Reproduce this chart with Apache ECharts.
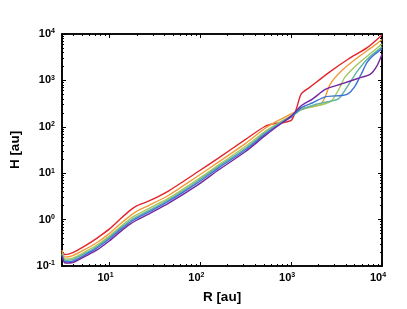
<!DOCTYPE html>
<html>
<head>
<meta charset="utf-8">
<script src="https://cdn.jsdelivr.net/npm/echarts@6/dist/echarts.min.js"></script>
<style>html,body{margin:0;padding:0;background:#fff;}#c{width:407px;height:309px;}</style>
</head>
<body>
<div id="c"></div>
<script>
// Shared radii for the inner part of the profiles (au)
const R_LOW = [3, 3.24, 3.94, 5.44, 7.23, 10, 13.3, 17, 20.1, 27.6, 44.9, 93, 158, 315, 512, 653, 833];

const H_LOW_RED    = [0.204, 0.176, 0.194, 0.276, 0.395, 0.630, 1.055, 1.60, 2.0, 2.55, 4.17, 10.6, 21.1, 53.6, 101.5, 117.6, 123.5];
const H_LOW_ORANGE = [0.219, 0.1555, 0.1675, 0.230, 0.317, 0.505, 0.826, 1.22, 1.53, 2.05, 3.35, 8.59, 17.3, 44.0, 92.0, 123.5, 158];
const H_LOW_YELLOW = [0.189, 0.141, 0.148, 0.204, 0.280, 0.447, 0.713, 1.055, 1.28, 1.77, 2.89, 7.27, 14.96, 38.0, 79.4, 106.6, 143];
const H_LOW_TEAL   = [0.180, 0.1323, 0.1376, 0.189, 0.260, 0.415, 0.662, 0.957, 1.16, 1.60, 2.68, 6.72, 13.9, 34.5, 73.8, 101.5, 136];
const H_LOW_BLUE   = [0.1716, 0.1235, 0.1278, 0.176, 0.242, 0.386, 0.615, 0.889, 1.08, 1.49, 2.49, 6.18, 12.9, 32.0, 68.5, 96.6, 130];
const H_LOW_PURPLE = [0.1634, 0.1159, 0.1187, 0.1634, 0.219, 0.350, 0.558, 0.806, 0.98, 1.35, 2.26, 5.52, 11.7, 29.3, 63.6, 92.0, 130];

// Outer part, per profile
const R_HI_RED    = [1012, 1143, 1291, 1596, 2597, 4225, 6875, 10000];
const H_HI_RED    = [140, 245.6, 513, 706, 1474, 2860, 5080, 9520];
const R_HI_ORANGE = [1012, 1200, 1389, 1816, 2101, 2373, 2700, 3589, 5390, 8072, 10000];
const H_HI_ORANGE = [192, 223, 254, 278, 299, 443, 838, 1610, 3108, 5495, 7630];
const R_HI_YELLOW = [1012, 1291, 1816, 2373, 2813, 3443, 3890, 5390, 8072, 10000];
const H_HI_YELLOW = [174, 234, 278, 314, 369, 713, 1164, 2237, 4300, 6120];
const R_HI_TEAL   = [1012, 1291, 1816, 2491, 3313, 3890, 4579, 5390, 6875, 10000];
const H_HI_TEAL   = [166, 234, 299, 346, 401, 603, 985, 1610, 2860, 5280];
const R_HI_BLUE   = [1012, 1291, 1729, 2373, 3589, 4225, 4962, 5840, 6875, 8072, 10000];
const H_HI_BLUE   = [166, 258, 330, 443, 472, 513, 713, 1304, 2468, 3480, 4790];
const R_HI_PURPLE = [1012, 1291, 1729, 2373, 3589, 5390, 7450, 8768, 10000];
const H_HI_PURPLE = [174, 285, 401, 640, 838, 1098, 1369, 2028, 3655];

const X_MAJOR = [10, 100, 1000, 10000];
const X_MINOR = [3,4,5,6,7,8,9,20,30,40,50,60,70,80,90,200,300,400,500,600,700,800,900,2000,3000,4000,5000,6000,7000,8000,9000];
const Y_MAJOR = [0.1, 1, 10, 100, 1000, 10000];
const Y_MINOR = [0.2,0.3,0.4,0.5,0.6,0.7,0.8,0.9,2,3,4,5,6,7,8,9,20,30,40,50,60,70,80,90,200,300,400,500,600,700,800,900,2000,3000,4000,5000,6000,7000,8000,9000];

function pairs(rl, hl, rh, hh) {
  const out = [];
  rl.forEach((r, i) => out.push([r, hl[i]]));
  rh.forEach((r, i) => out.push([r, hh[i]]));
  return out;
}

const SERIES = [
  { color: '#e3242b', data: pairs(R_LOW, H_LOW_RED, R_HI_RED, H_HI_RED) },
  { color: '#f29a38', data: pairs(R_LOW, H_LOW_ORANGE, R_HI_ORANGE, H_HI_ORANGE) },
  { color: '#a3c75a', data: pairs(R_LOW, H_LOW_YELLOW, R_HI_YELLOW, H_HI_YELLOW) },
  { color: '#5cb3a0', data: pairs(R_LOW, H_LOW_TEAL, R_HI_TEAL, H_HI_TEAL) },
  { color: '#3c72d6', data: pairs(R_LOW, H_LOW_BLUE, R_HI_BLUE, H_HI_BLUE) },
  { color: '#7228a0', data: pairs(R_LOW, H_LOW_PURPLE, R_HI_PURPLE, H_HI_PURPLE) }
];

const FONT = 'Liberation Sans, Arial, Helvetica, sans-serif';
function lbl(extra) {
  return Object.assign({
    fontFamily: FONT,
    formatter: v => '{b|10}{s|' + Math.round(Math.log10(v)) + '}',
    rich: {
      b: { fontSize: 11, lineHeight: 12, fontWeight: 'bold', color: '#000', fontFamily: FONT },
      s: { fontSize: 7, lineHeight: 7, fontWeight: 'bold', color: '#000', fontFamily: FONT, verticalAlign: 'top' }
    }
  }, extra);
}
const line = { show: true, onZero: false, lineStyle: { color: '#000', width: 1.6 } };

function xAx(pos, major, withLabel) {
  return {
    type: 'log', min: 3, max: 10000, position: pos, gridIndex: 0,
    axisLine: line,
    splitLine: { show: false },
    axisTick: { show: true, inside: true, length: major ? 4 : 2, lineStyle: { color: '#000', width: 1 }, customValues: major ? X_MAJOR : X_MINOR },
    axisLabel: withLabel ? lbl({ show: true, margin: 6, customValues: X_MAJOR, align: 'center', padding: [0, 8, 0, 0] }) : { show: false },
    name: withLabel ? 'R [au]' : '',
    nameLocation: 'middle', nameGap: 24,
    nameTextStyle: { fontFamily: FONT, fontSize: 13.5, fontWeight: 'bold', color: '#000' }
  };
}
function yAx(pos, major, withLabel) {
  return {
    type: 'log', min: 0.1, max: 10000, position: pos, gridIndex: 0,
    axisLine: line,
    splitLine: { show: false },
    axisTick: { show: true, inside: true, length: major ? 4 : 2, lineStyle: { color: '#000', width: 1 }, customValues: major ? Y_MAJOR : Y_MINOR },
    axisLabel: withLabel ? lbl({ show: true, margin: 7, customValues: Y_MAJOR }) : { show: false },
    name: withLabel ? 'H [au]' : '',
    nameLocation: 'middle', nameGap: 40, nameRotate: 90,
    nameTextStyle: { fontFamily: FONT, fontSize: 13.5, fontWeight: 'bold', color: '#000' }
  };
}

const chart = echarts.init(document.getElementById('c'), null, { renderer: 'canvas' });
chart.setOption({
  animation: false,
  backgroundColor: '#fff',
  grid: { left: 48, right: 25, top: 34, bottom: 40, containLabel: false },
  xAxis: [xAx('bottom', true, true), xAx('bottom', false, false), xAx('top', true, false), xAx('top', false, false)],
  yAxis: [yAx('left', true, true), yAx('left', false, false), yAx('right', true, false), yAx('right', false, false)],
  series: SERIES.map(s => ({
    type: 'line', xAxisIndex: 0, yAxisIndex: 0,
    data: s.data, showSymbol: false, smooth: 0.25,
    lineStyle: { color: s.color, width: 1.4 },
    itemStyle: { color: s.color }
  }))
});
</script>
</body>
</html>
